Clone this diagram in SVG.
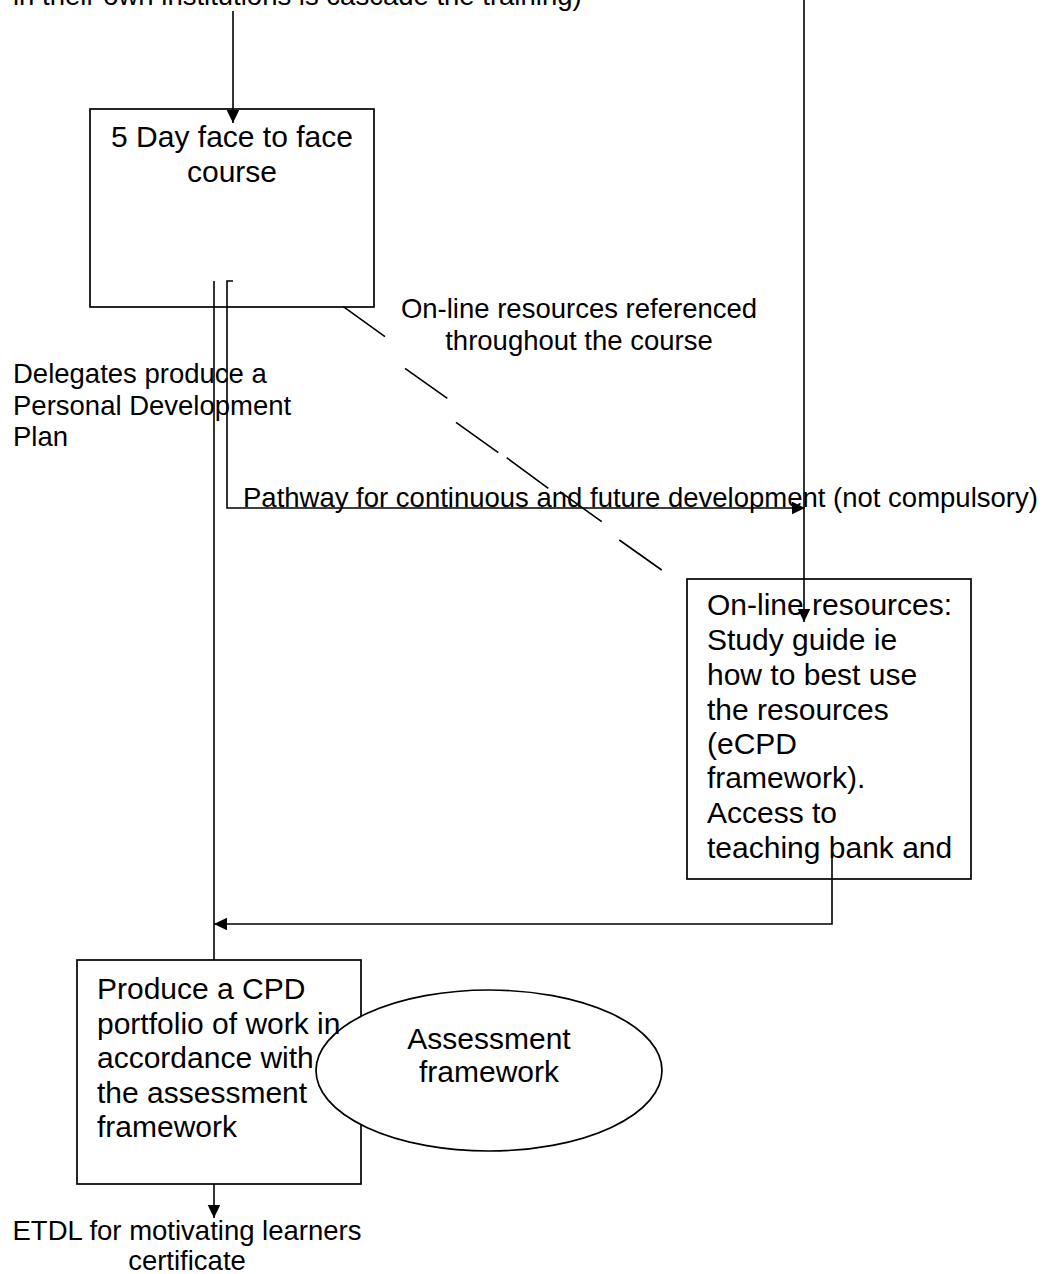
<svg xmlns="http://www.w3.org/2000/svg" width="1042" height="1274" viewBox="0 0 1042 1274">
<style>
text{font-family:"Liberation Sans",Arial,sans-serif;fill:#000}
.lbl{font-size:27.5px}
.box{font-size:30px}
.node{fill:#fff;stroke:#000;stroke-width:1.7}
.conn{fill:none;stroke:#000;stroke-width:1.6}
.mid{text-anchor:middle}
</style>
<defs>
<marker id="arr" markerUnits="userSpaceOnUse" markerWidth="14" markerHeight="13" refX="13" refY="6.3" orient="auto">
<path d="M0,0 L13,6.3 L0,12.6 z" fill="#000"/>
</marker>
</defs>
<rect width="1042" height="1274" fill="#fff"/>

<g id="top-label">
<text class="lbl" x="13" y="5">in their own institutions is cascade the training)</text>
</g>

<g id="five-day-course">
<rect class="node" x="90" y="109" width="284" height="198"/>
<text class="box mid" x="232" y="147">5 Day face to face</text>
<text class="box mid" x="232" y="181.5">course</text>
</g>

<g id="online-label">
<text class="lbl mid" x="579" y="318">On-line resources referenced</text>
<text class="lbl mid" x="579" y="350">throughout the course</text>
</g>

<g id="pdp-label">
<text class="lbl" x="13" y="383">Delegates produce a</text>
<text class="lbl" x="13" y="414.6">Personal Development</text>
<text class="lbl" x="13" y="446.2">Plan</text>
</g>

<g id="pathway-label">
<text class="lbl" x="243" y="507">Pathway for continuous and future development (not compulsory)</text>
</g>

<g id="online-resources">
<rect class="node" x="687" y="579" width="284" height="300"/>
<text class="box" x="707" y="615">On-line resources:</text>
<text class="box" x="707" y="650">Study guide ie</text>
<text class="box" x="707" y="685">how to best use</text>
<text class="box" x="707" y="720">the resources</text>
<text class="box" x="707" y="754">(eCPD</text>
<text class="box" x="707" y="788">framework).</text>
<text class="box" x="707" y="823">Access to</text>
<text class="box" x="707" y="858">teaching bank and</text>
</g>

<g id="connectors">
<line class="conn" x1="233" y1="11" x2="233" y2="123" marker-end="url(#arr)"/>
<line class="conn" x1="804" y1="0" x2="804" y2="622" marker-end="url(#arr)"/>
<path class="conn" d="M233,281 L227,281 L227,508 L805,508" marker-end="url(#arr)"/>
<line class="conn" x1="214" y1="281" x2="214" y2="960"/>
<path class="conn" d="M832,837 L832,924 L214,924" marker-end="url(#arr)"/>
<line class="conn" x1="214" y1="1154" x2="214" y2="1218" marker-end="url(#arr)"/>
<path class="conn" d="M343.3,306.7 L385,336.7 M405,368.3 L447.3,398.3 M456,422.3 L498.3,452.7 M506.7,457.7 L548.3,488.3 M560,491.7 L601.7,521.7 M619.3,540 L661.7,570"/>
</g>

<g id="produce-portfolio">
<rect class="node" x="77" y="960" width="284" height="224"/>
</g>

<g id="assessment-framework">
<ellipse class="node" cx="489" cy="1070.5" rx="173" ry="80.5"/>
<text class="box mid" x="489" y="1049">Assessment</text>
<text class="box mid" x="489" y="1082">framework</text>
</g>

<g id="produce-portfolio-text">
<text class="box" x="97" y="999">Produce a CPD</text>
<text class="box" x="97" y="1033.5">portfolio of work in</text>
<text class="box" x="97" y="1068">accordance with</text>
<text class="box" x="97" y="1102.5">the assessment</text>
<text class="box" x="97" y="1137">framework</text>
</g>

<g id="certificate-label">
<text class="lbl mid" x="187" y="1240">ETDL for motivating learners</text>
<text class="lbl mid" x="187" y="1270">certificate</text>
</g>
</svg>
